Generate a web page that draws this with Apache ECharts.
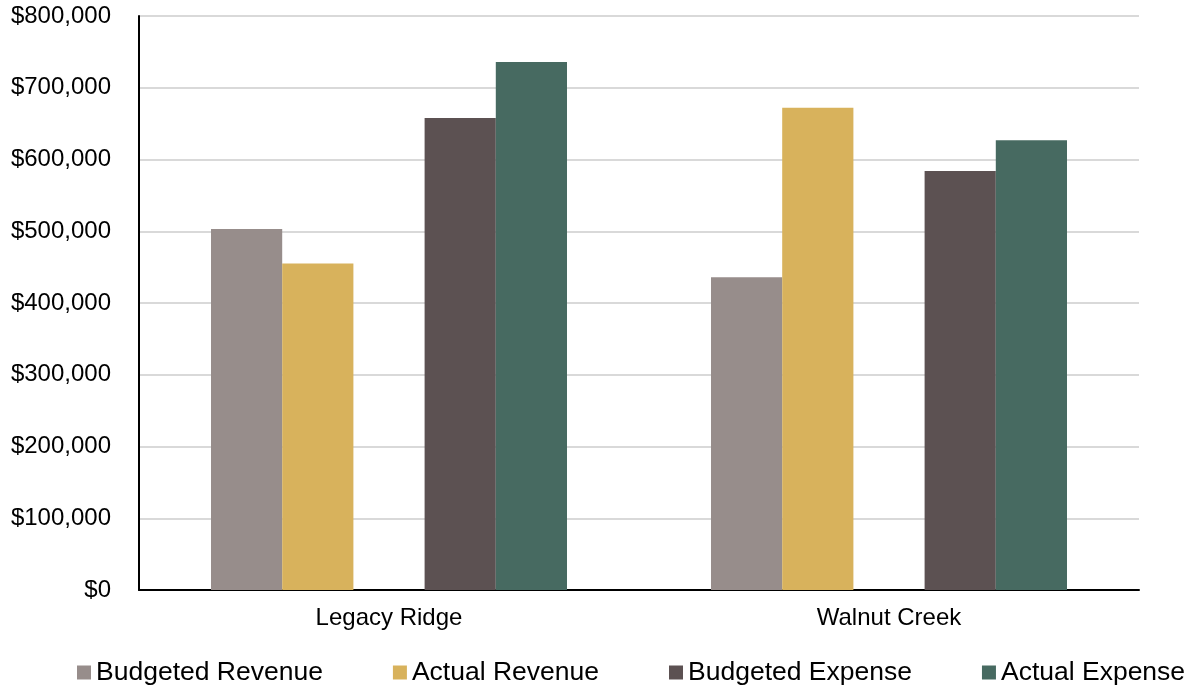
<!DOCTYPE html>
<html>
<head>
<meta charset="utf-8">
<script src="https://cdn.jsdelivr.net/npm/echarts@6/dist/echarts.min.js"></script>
<style>
  html, body { margin: 0; padding: 0; background: #fff; }
  #chart { width: 1188px; height: 693px; }
</style>
</head>
<body>
<div id="chart"></div>
<script>
// Properties compared
const categories = ['Legacy Ridge', 'Walnut Creek'];

// Revenue and expense figures per property
const budgetedRevenue = [503000, 436000];
const actualRevenue = [455000, 672000];
const budgetedExpense = [658000, 584000];
const actualExpense = [736000, 627000];

const seriesNames = ['Budgeted Revenue', 'Actual Revenue', 'Budgeted Expense', 'Actual Expense'];
const seriesColors = ['#978d8b', '#d8b25c', '#5c5152', '#476a61'];

const FONT = '"Liberation Sans", Arial, sans-serif';

function barSeries(name, data, color) {
  return { name: name, type: 'bar', data: data, itemStyle: { color: color }, barGap: '0%', barCategoryGap: '28.8%' };
}

const chart = echarts.init(document.getElementById('chart'), null, { renderer: 'canvas' });
chart.setOption({
  animation: false,
  textStyle: { fontFamily: FONT },
  grid: { left: 139, right: 49, top: 16, bottom: 103 },
  legend: {
    data: seriesNames,
    left: 77,
    top: 659,
    padding: 0,
    itemWidth: 14,
    itemHeight: 14,
    itemGap: 70,
    icon: 'rect',
    textStyle: { fontSize: 26.5, color: '#000', fontFamily: FONT }
  },
  xAxis: {
    type: 'category',
    data: categories,
    axisLine: { lineStyle: { color: '#000', width: 2 } },
    axisTick: { show: false },
    axisLabel: { fontSize: 24, color: '#000', margin: 16, fontFamily: FONT }
  },
  yAxis: {
    type: 'value',
    min: 0,
    max: 800000,
    interval: 100000,
    axisLine: { show: true, lineStyle: { color: '#000', width: 2 } },
    axisTick: { show: false },
    splitLine: { lineStyle: { color: '#d9d9d9', width: 2 } },
    axisLabel: {
      fontSize: 24,
      color: '#000',
      margin: 28,
      fontFamily: FONT,
      formatter: v => '$' + v.toLocaleString('en-US')
    }
  },
  series: [
    barSeries(seriesNames[0], budgetedRevenue, seriesColors[0]),
    barSeries(seriesNames[1], actualRevenue, seriesColors[1]),
    // empty slot separating revenue bars from expense bars
    { name: 'spacer', type: 'bar', data: [0, 0], silent: true, itemStyle: { color: 'transparent' } },
    barSeries(seriesNames[2], budgetedExpense, seriesColors[2]),
    barSeries(seriesNames[3], actualExpense, seriesColors[3])
  ]
});
</script>
</body>
</html>
